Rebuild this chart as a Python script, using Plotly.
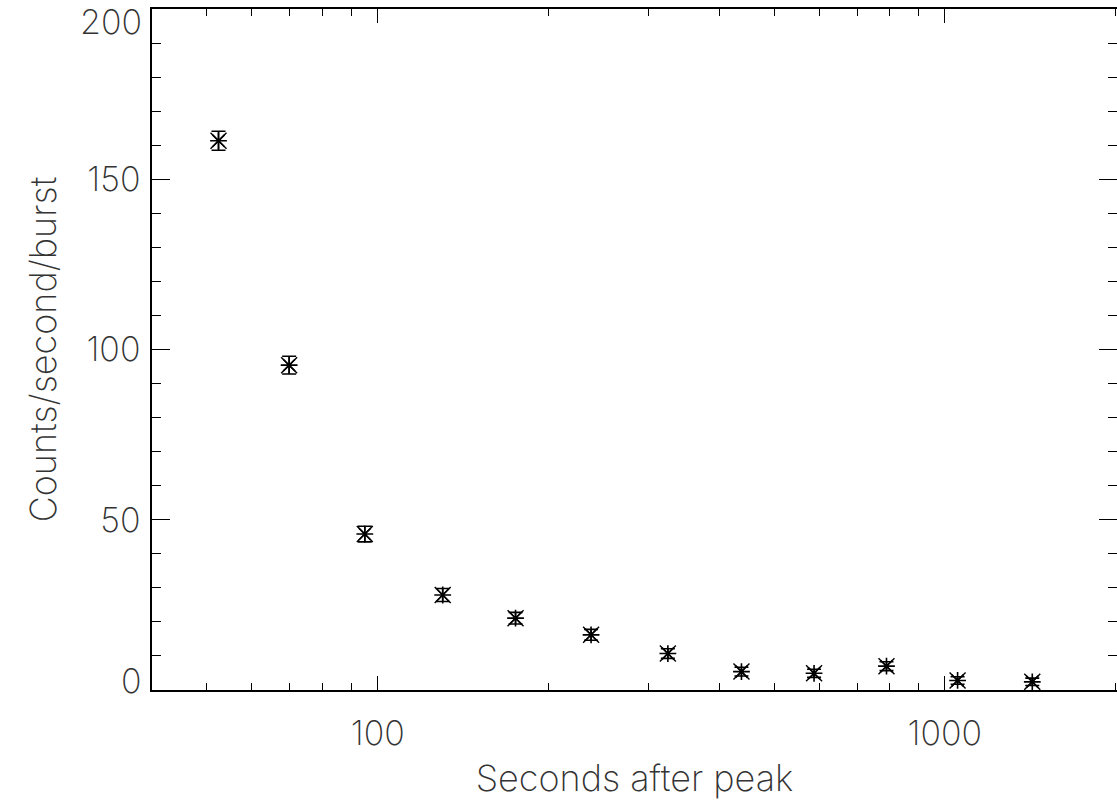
import plotly.graph_objects as go

seconds = [52.4, 69.8, 94.9, 130.2, 175.0, 237.8, 324.8, 437.9, 588.0, 789.0, 1053.0, 1426.0]
rate = [161.3, 95.4, 45.8, 27.9, 21.1, 16.2, 10.7, 5.4, 4.9, 7.0, 2.8, 2.4]
rate_err = [2.8, 2.6, 2.3, 1.9, 1.7, 1.6, 1.4, 1.3, 1.2, 1.3, 1.1, 1.1]

x_major = [100, 1000]
x_minor = [40, 50, 60, 70, 80, 90, 200, 300, 400, 500, 600, 700, 800, 900, 2000]
y_major = [0, 50, 100, 150, 200]

FONT = "Inter, sans-serif"
TXT = "#333333"

fig = go.Figure()
fig.add_trace(go.Scatter(
    x=seconds, y=rate, mode="markers",
    error_y=dict(type="data", array=rate_err, color="black", thickness=1.6, width=7),
    marker=dict(symbol="asterisk-open", size=14, color="black",
                line=dict(color="black", width=1.6)),
    showlegend=False, hoverinfo="x+y"))
fig.add_trace(go.Scatter(
    x=seconds, y=rate, mode="markers",
    marker=dict(symbol="x-thin-open", size=16, color="black",
                line=dict(color="black", width=1.4)),
    showlegend=False, hoverinfo="skip"))

tickfont = dict(family=FONT, size=34, color=TXT, weight=200)
titlefont = dict(family=FONT, size=36, color=TXT, weight=200)
axis_common = dict(
    showline=True, linecolor="black", linewidth=1.5, mirror="ticks",
    ticks="inside", tickcolor="black", tickwidth=1.2,
    showgrid=False, zeroline=False, automargin=False,
    ticklabeloverflow="allow",
    tickfont=tickfont,
)

fig.update_xaxes(
    type="log", range=[1.60206, 3.3035],
    tickmode="array", tickvals=x_major, ticktext=[str(v) for v in x_major],
    ticklen=14,
    minor=dict(tickmode="array", tickvals=x_minor, ticks="inside", ticklen=7,
               tickcolor="black", tickwidth=1.2),
    title=dict(text="Seconds after peak", font=titlefont, standoff=14),
    ticklabelstandoff=12,
    **axis_common)

# end labels (0 and 200) are nudged inward, as in the reference
inner_labels = [str(v) if v not in (y_major[0], y_major[-1]) else "" for v in y_major]
fig.update_yaxes(
    range=[0, 200],
    tickmode="array", tickvals=y_major, ticktext=inner_labels,
    ticklen=18,
    minor=dict(dtick=10, ticks="inside", ticklen=9, tickcolor="black", tickwidth=1.2),
    title=dict(text="Counts/second/burst", font=titlefont, standoff=19),
    ticklabelstandoff=3,
    **axis_common)

for v, anchor, shift in ((y_major[0], "bottom", -13), (y_major[-1], "top", 10)):
    fig.add_annotation(
        text=str(v), xref="paper", x=0, yref="y", y=v,
        xanchor="right", yanchor=anchor, xshift=-8, yshift=shift,
        showarrow=False, font=tickfont)

fig.update_layout(
    width=1117, height=807,
    margin=dict(l=152, r=0, t=9, b=117),
    paper_bgcolor="white", plot_bgcolor="white",
    font=dict(family=FONT, color=TXT),
)

fig.write_html("out.html", config={"displayModeBar": False},
               post_script="document.body.style.margin='0';")
